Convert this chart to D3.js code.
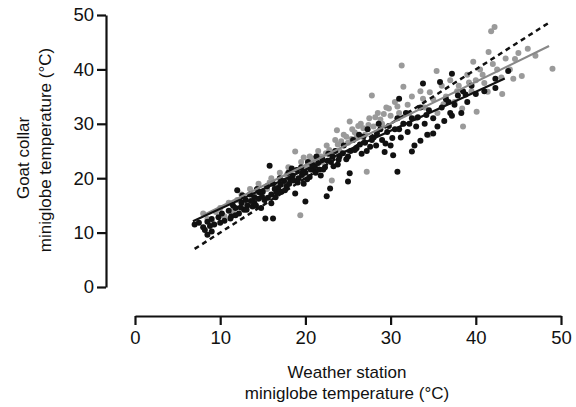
<!DOCTYPE html>
<html><head><meta charset="utf-8">
<script src="https://cdn.jsdelivr.net/npm/d3@7"></script>
<style>html,body{margin:0;padding:0;background:#fff;}svg{display:block;}</style>
</head><body>
<svg id="c" width="576" height="407"></svg>
<script>
const xTicks = [0, 10, 20, 30, 40, 50];
const yTicks = [0, 10, 20, 30, 40, 50];
const xTitle = ["Weather station", "miniglobe temperature (°C)"];
const yTitle = ["Goat collar", "miniglobe temperature (°C)"];

// Black series (x, y)
const blackPts = [
[7,11.5],[7.5,11.8],[8,11],[8.2,10.5],[8.5,12],[8.8,11.2],[9,10.2],[9,12.5],[9.3,11.5],[8.5,9.6],[9.8,12.8],
[10.2,13.5],[10.5,12.2],[11,14],[11.3,13],[11.5,15],[11.8,14.5],[12,17.8],[12.2,13.5],[12.5,15.5],[12.8,14.2],
[13,16],[13.2,15],[13.5,17],[13.8,14.8],[14,16.5],[14,15.5],[14.3,18],[14.5,16.2],[14.8,14.5],[15,17.5],[15.2,16],
[15.3,12.6],[16.2,12.6],[15.5,18.5],[15.8,22.3],[16,17],[16.2,19],[16.5,16.5],[16.8,18.2],[17,20],[17.2,17.5],
[17.5,19.5],[17.8,18.5],[18,21],[18.2,19.8],[18.5,20.5],[18.8,17.2],[19,21.5],[19.2,20],[19.5,22],[19.8,19],
[20,15.7],[20,21],[20.3,23],[20.5,20.2],[20.8,22.5],[21,21.5],[21.3,24],[21.5,22.8],[21.8,20.5],[22,23.5],
[22.5,16.7],[22.9,18.1],[22.3,22],[22.7,24.5],[23,23],[23.5,25],[23.8,22.5],[24,24],[24.5,26],[24.8,23.5],
[25,19.4],[25.2,20.9],[25.3,25],[25.6,27],[26,25.5],[26.3,28],[26.6,24.5],[27,26.5],[27.3,29],[27.6,25.8],
[28,27.5],[28.3,26],[28.6,30],[29,27],[29.3,24.8],[29.6,28.5],[30,26],[30.3,24.2],[30.8,21.2],[30.5,29],
[30.8,31],[31,34.6],[31.2,27.5],[31.5,30],[31.8,32],[32,28.5],[32.5,24.9],[32.5,31],[32.8,26],[33,29.5],
[33.5,26.9],[33.5,33],[33.8,37.4],[34,30],[34.3,28],[34.5,32.5],[35,28.2],[35,31],[35.5,29.5],[35.8,37.7],
[36,33],[36.3,30.5],[36.5,34.5],[37,32],[37.2,31.5],[37.2,39.2],[37.5,33.5],[37.9,35.2],[38.3,32],[38.5,36],
[39,34],[39.5,37],[40,35.5],[41,36],[42.3,38.3],[42.3,36.6],[43.8,39.7],
[10,11.8],[12.6,16.8],[14.6,17.4],[16.4,18],[18.4,21.8],[19.6,20.6],[21.2,21],[23.2,24],[26.8,27.6],[28.8,29],
[11.2,12.6],[11.8,13.2],[12.4,14.6],[13.1,14.2],[13.6,15.8],[14.2,15],[14.9,16.6],[15.6,16.4],[16,15.4],[16.6,17.4],
[17.1,18.8],[17.6,17.8],[18.1,19],[18.6,19.6],[19.1,19.2],[19.7,21.2],[20.2,19.8],[20.6,21.6],[21.1,22.2],[21.6,21.6],
[22.1,21.6],[22.6,23.2],[23.3,22.2],[23.9,23.4],[24.4,24.6],[25,24],[25.8,25.2],[26.4,26.2],[27.2,25],[27.8,27],
[28.4,28.2],[29.4,26.4],[29.8,29.6],[30.2,27.4],[31,29],[32.2,30],[33.2,31.2],[34.2,31.6],[36.8,34],[38.8,35.4]
];

// Gray series (x, y)
const grayPts = [
[8,13.5],[8.5,12.5],[9,12],[9.5,13.8],[10,14.5],[10.5,13],[11,15.5],[11.5,14],[12,16],[12.5,17],[13,15],
[13.5,18],[14,17],[14.5,19],[15,16.5],[15.5,18],[16,20],[16.5,18.5],[17,21],[17.5,19],[18,22],[18.5,20],
[18.8,24.9],[19,21.5],[19.4,13.2],[19.5,23],[20,22],[20.5,24],[21,22.5],[21.5,25],[22,23],[22.5,26],[23,24.5],
[23.1,19.6],[23.5,27],[23.7,28.8],[24,25],[24.5,28],[25,26.5],[25.2,30.4],[25.5,29],[26,27.5],[26.5,30],
[27,28],[27.2,21.2],[27.5,31],[27.8,35.2],[28,29.5],[28.5,32],[29,30],[29.5,33],[30,31.5],[30.5,34],[31,32],
[31.3,40.7],[31.5,36.8],[31.5,30],[32,33.5],[32.5,35],[33,31],[33.5,36],[34,33],[34.5,28],[35,34.5],
[35.4,39.7],[35.5,32],[36,37],[36.5,35],[37,38],[37.5,34],[38,37],[38.4,32.8],[38.5,29.5],[39,39],[39.5,36],
[39.7,41.4],[40,38],[40.1,32.2],[40.5,40],[41,37.5],[41.4,35.9],[41.5,43.2],[41.8,47],[42.2,47.8],[42.5,40],
[43,38.5],[43.1,35.5],[43.5,42],[44,40],[44.4,38.3],[44.6,41.9],[45,43],[45.4,38.8],[46.1,43.8],[47,42.5],[49,40.1],
[24.2,26.8],[25.8,28.4],[26.2,29.6],[28.2,31.2],[29.2,31.8],[22.8,25.2],[20.8,23.6],[17.8,20.6],[15.8,19.2],
[19.8,23.8],[20.4,22.6],[21.8,24],[22.4,24.6],[23.8,26.2],[24.8,27.6],[25.4,27.2],[26.8,29.2],[27.4,29.8],[28.8,30.8],
[29.8,32.8],[30.8,33.2],[32.2,32],[33.8,34.6],[34.6,35.8],[36.2,33.6],[37.8,36],[39.2,37.6],[40.8,39],[42,41]
];

// Regression / reference lines: [x0, x1, intercept, slope]
const dashedLine = [7, 48.7, 0, 1];
const grayLine = [8, 48.6, 7.07, 0.766];
const blackLine = [6.8, 43.4, 7.23, 0.716];

const svg = d3.select("#c");
const x = d3.scaleLinear().domain([0, 50]).range([135, 561]);
const y = d3.scaleLinear().domain([0, 50]).range([287, 15]);
const font = "Liberation Sans, Arial, sans-serif";

// axes
const xAxis = svg.append("g").attr("transform", "translate(0,316)")
  .call(d3.axisBottom(x).tickValues(xTicks).tickSize(9).tickSizeOuter(0).tickPadding(6));
const yAxis = svg.append("g").attr("transform", "translate(106,0)")
  .call(d3.axisLeft(y).tickValues(yTicks).tickSize(9).tickSizeOuter(0).tickPadding(3));
[xAxis, yAxis].forEach(a => {
  a.select(".domain").attr("stroke", "#111").attr("stroke-width", 2.2);
  a.selectAll(".tick line").attr("stroke", "#111").attr("stroke-width", 2.2);
  a.selectAll(".tick text").attr("fill", "#111").style("font-family", font).style("font-size", "18.5px");
});

// points
svg.append("g").selectAll("circle").data(grayPts).join("circle")
  .attr("cx", d => x(d[0])).attr("cy", d => y(d[1])).attr("r", 3).attr("fill", "#9a9a9a");
svg.append("g").selectAll("circle").data(blackPts).join("circle")
  .attr("cx", d => x(d[0])).attr("cy", d => y(d[1])).attr("r", 3).attr("fill", "#111");

function drawLine(p, color, dash, w) {
  svg.append("line")
    .attr("x1", x(p[0])).attr("y1", y(p[2] + p[3] * p[0]))
    .attr("x2", x(p[1])).attr("y2", y(p[2] + p[3] * p[1]))
    .attr("stroke", color).attr("stroke-width", w)
    .attr("stroke-dasharray", dash);
}
drawLine(dashedLine, "#111", "5,4", 2.5);
drawLine(grayLine, "#888", null, 2.2);
drawLine(blackLine, "#111", null, 2.2);

// titles
const tsize = "17px";
svg.append("text").attr("x", 347).attr("y", 378).attr("text-anchor", "middle")
  .style("font-family", font).style("font-size", tsize).attr("fill", "#111").text(xTitle[0]);
svg.append("text").attr("x", 347).attr("y", 399).attr("text-anchor", "middle")
  .style("font-family", font).style("font-size", tsize).attr("fill", "#111").text(xTitle[1]);
svg.append("text").attr("transform", "translate(29,158) rotate(-90)").attr("text-anchor", "middle")
  .style("font-family", font).style("font-size", tsize).attr("fill", "#111").text(yTitle[0]);
svg.append("text").attr("transform", "translate(51,150) rotate(-90)").attr("text-anchor", "middle")
  .style("font-family", font).style("font-size", tsize).attr("fill", "#111").text(yTitle[1]);
</script>
</body></html>
